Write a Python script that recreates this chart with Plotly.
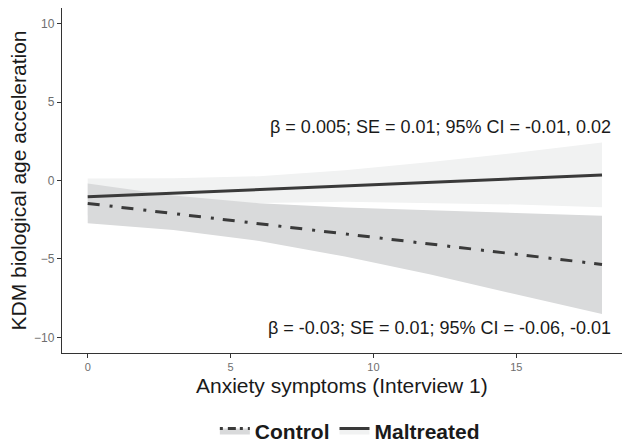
import plotly.graph_objects as go

# Data
x_vals = [0, 3, 6, 9, 12, 15, 18]

control_fit = [-1.46, -2.11, -2.76, -3.40, -4.05, -4.70, -5.35]
control_upper = [-0.19, -0.95, -1.45, -1.72, -1.90, -2.07, -2.24]
control_lower = [-2.73, -3.15, -3.85, -4.85, -6.00, -7.25, -8.52]

maltreated_fit = [-1.04, -0.81, -0.58, -0.35, -0.12, 0.12, 0.35]
maltreated_upper = [0.13, 0.14, 0.27, 0.65, 1.18, 1.77, 2.42]
maltreated_lower = [-2.21, -1.76, -1.43, -1.35, -1.42, -1.53, -1.70]

x_ticks = [0, 5, 10, 15]
y_ticks = [-10, -5, 0, 5, 10]

annot_maltreated = "β = 0.005; SE = 0.01; 95% CI = -0.01, 0.02"
annot_control = "β = -0.03; SE = 0.01; 95% CI = -0.06, -0.01"
x_title = "Anxiety symptoms (Interview 1)"
y_title = "KDM biological age acceleration"

LINE = "#3a3a3a"
CTRL_FILL = "#d9dadb"
MALT_FILL = "#f1f2f2"
FONT = "Liberation Sans, Arial, sans-serif"
DASH = "12px,10px,3px,9px"

fig = go.Figure()

# Maltreated ribbon
fig.add_trace(go.Scatter(x=x_vals + x_vals[::-1], y=maltreated_upper + maltreated_lower[::-1],
                         fill="toself", fillcolor=MALT_FILL, line=dict(width=0),
                         mode="lines", showlegend=False, hoverinfo="skip"))
# Control ribbon
fig.add_trace(go.Scatter(x=x_vals + x_vals[::-1], y=control_upper + control_lower[::-1],
                         fill="toself", fillcolor=CTRL_FILL, line=dict(width=0),
                         mode="lines", showlegend=False, hoverinfo="skip"))
# Lines
fig.add_trace(go.Scatter(x=x_vals, y=maltreated_fit, mode="lines",
                         line=dict(color=LINE, width=3), showlegend=False))
fig.add_trace(go.Scatter(x=x_vals, y=control_fit, mode="lines",
                         line=dict(color=LINE, width=3, dash=DASH), showlegend=False))

# Legend-only entries
fig.add_trace(go.Scatter(x=[None], y=[None], mode="lines", fill="toself", fillcolor=CTRL_FILL,
                         line=dict(color=LINE, width=3, dash="3px,5px,8px,4px"),
                         name="<b>Control</b>"))
fig.add_trace(go.Scatter(x=[None], y=[None], mode="lines", fill="toself", fillcolor=MALT_FILL,
                         line=dict(color=LINE, width=3), name="<b>Maltreated</b>"))

fig.add_annotation(x=18.4, y=3.4, text=annot_maltreated, showarrow=False, xanchor="right",
                   font=dict(family=FONT, size=18, color="#1a1a1a"))
fig.add_annotation(x=18.4, y=-9.4, text=annot_control, showarrow=False, xanchor="right",
                   font=dict(family=FONT, size=18, color="#1a1a1a"))
# x-axis title placed as paper annotation for precise vertical position
fig.add_annotation(x=0.5, xref="paper", y=-0.093, yref="paper", text=x_title,
                   showarrow=False, xanchor="center", yanchor="middle",
                   font=dict(family=FONT, size=21, color="#1a1a1a"))

fig.update_layout(
    width=622, height=446,
    margin=dict(l=62, r=0, t=8, b=93, autoexpand=False),
    plot_bgcolor="white", paper_bgcolor="white",
    font=dict(family=FONT),
    xaxis=dict(range=[-0.9, 18.7], tickvals=x_ticks, showgrid=False, zeroline=False,
               showline=True, linecolor="#333333", linewidth=1.3,
               ticks="outside", ticklen=4, tickcolor="#333333", tickwidth=1,
               tickfont=dict(size=11, color="#6e6e6e", family=FONT)),
    yaxis=dict(range=[-11, 11], tickvals=y_ticks, showgrid=False, zeroline=False,
               showline=True, linecolor="#333333", linewidth=1.3,
               ticks="outside", ticklen=4, tickcolor="#333333", tickwidth=1,
               tickfont=dict(size=12, color="#6e6e6e", family=FONT),
               title=dict(text=y_title, standoff=1,
                          font=dict(size=21, color="#1a1a1a", family=FONT))),
    legend=dict(orientation="h", x=0.514, xanchor="center", y=-0.226, yanchor="middle",
                font=dict(size=21, color="#1a1a1a", family=FONT), itemwidth=30,
                bgcolor="rgba(0,0,0,0)"),
)

fig.write_html("out.html", config={"displayModeBar": False},
               post_script="document.body.style.margin='0';document.body.style.padding='0';")
